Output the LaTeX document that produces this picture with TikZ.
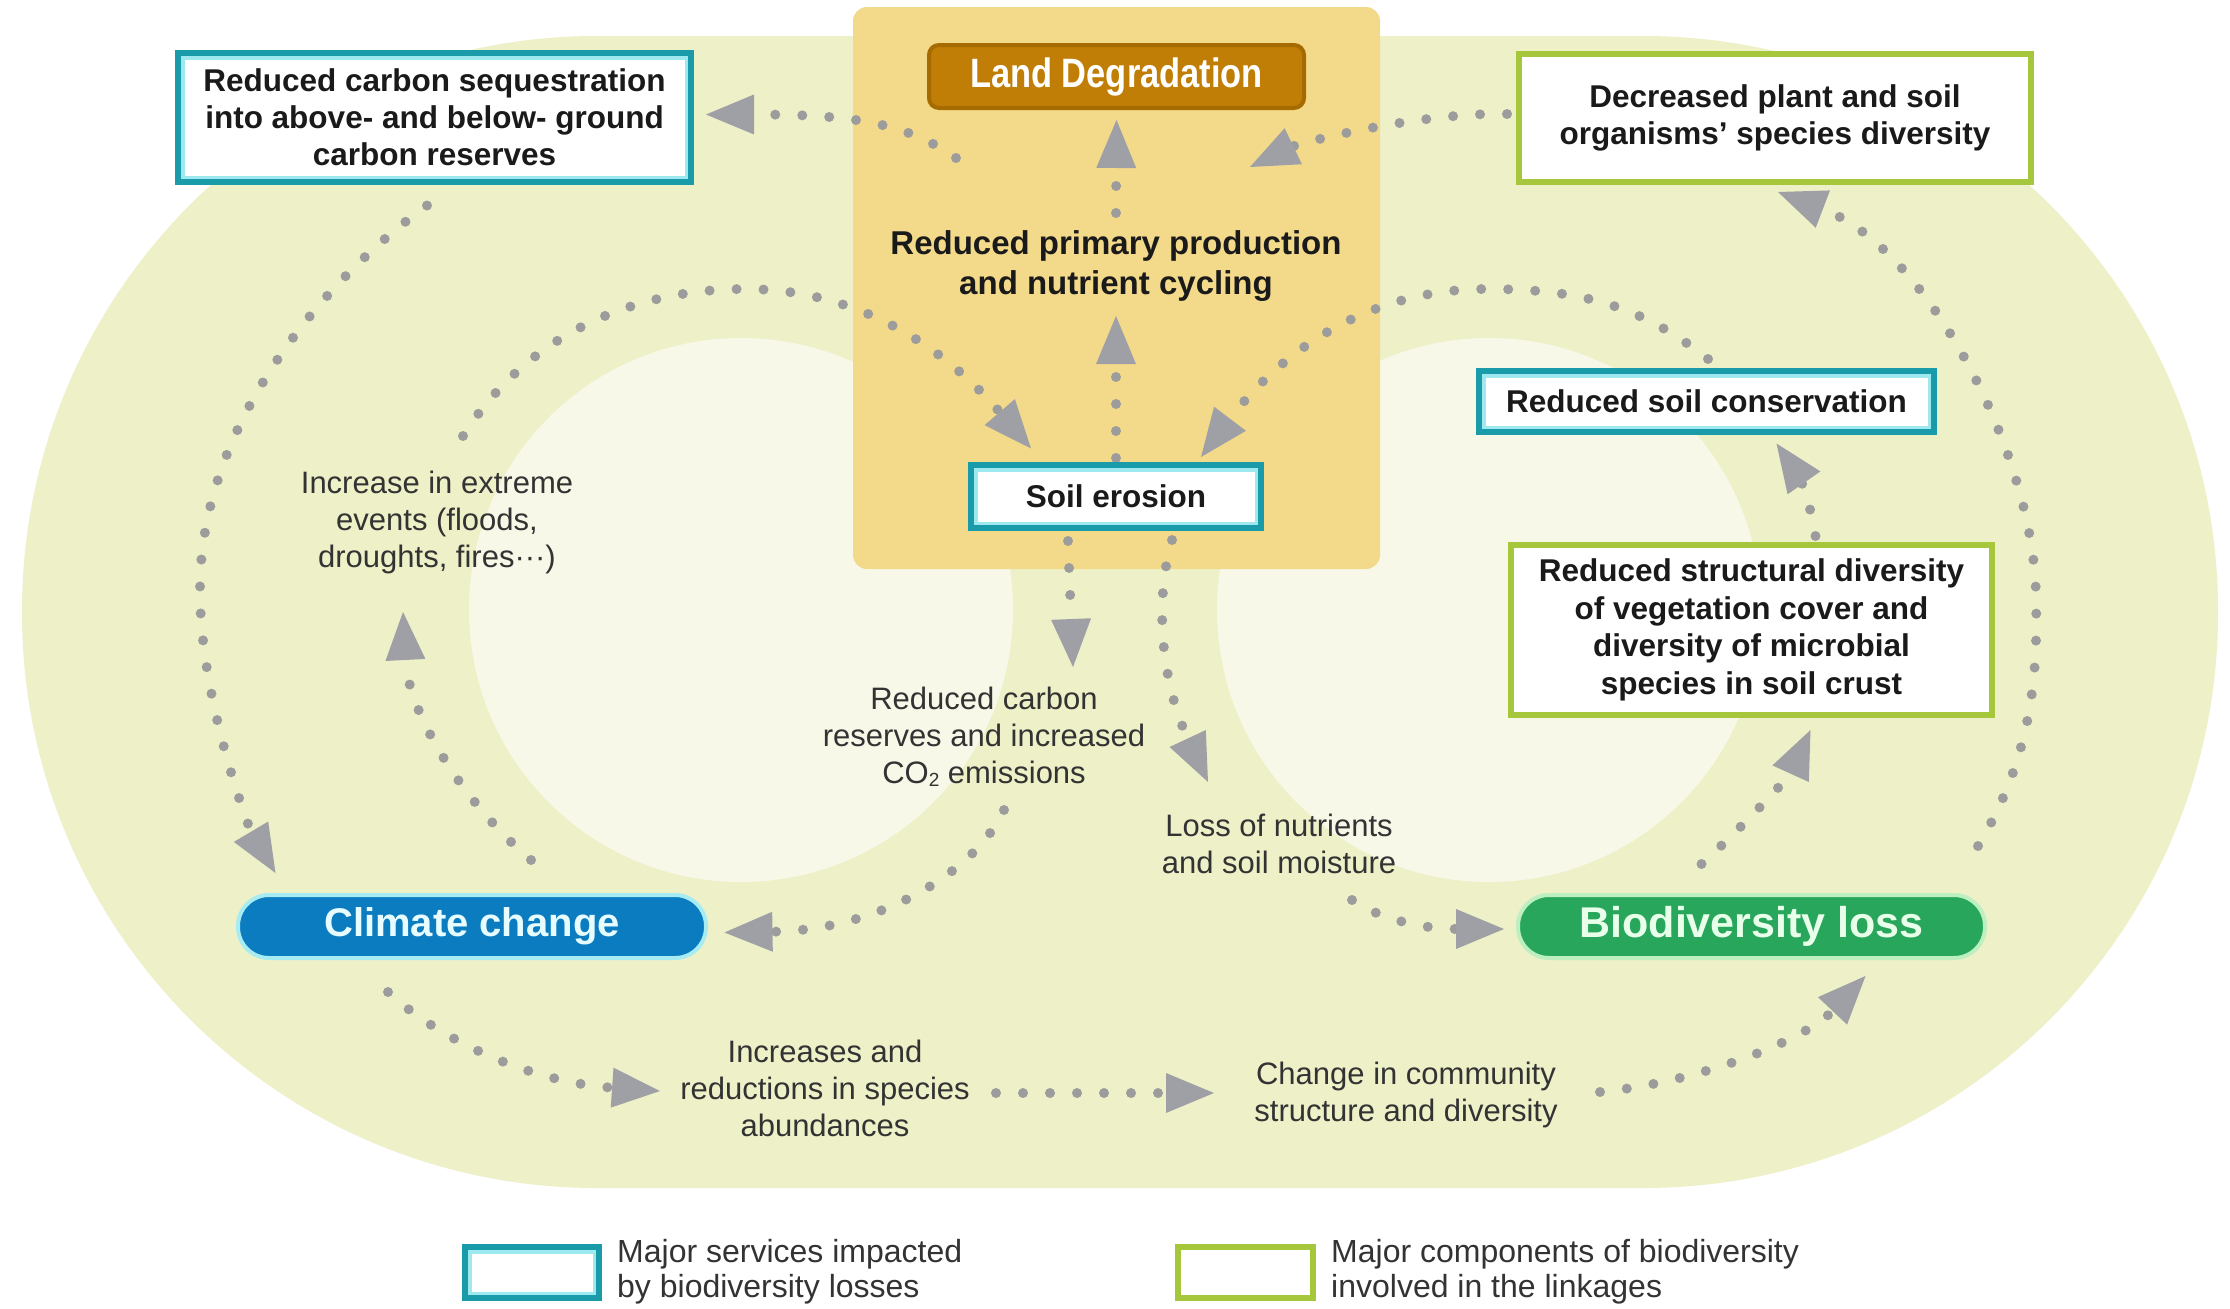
\documentclass[tikz,border=0pt]{standalone}
\usepackage{fontspec}
\setmainfont{Liberation Sans}
\newfontfamily\narrowsans{Liberation Sans}[FakeStretch=0.84]
\usetikzlibrary{arrows.meta,calc}

\definecolor{outergreen}{HTML}{EEF0C8}
\definecolor{palegreen}{HTML}{F7F8E7}
\definecolor{panelyellow}{HTML}{F3DA8A}
\definecolor{ldfill}{HTML}{C07E06}
\definecolor{ldedge}{HTML}{A56B00}
\definecolor{tealc}{HTML}{1A9BAA}
\definecolor{halocyan}{HTML}{9EE9F0}
\definecolor{greenc}{HTML}{A6C63C}
\definecolor{climblue}{HTML}{0B7CC0}
\definecolor{climedge}{HTML}{A8ECF3}
\definecolor{climtext}{HTML}{E6FCFF}
\definecolor{biogreen}{HTML}{28A75C}
\definecolor{bioedge}{HTML}{BDEFC0}
\definecolor{biotext}{HTML}{E8FFE9}
\definecolor{dotgray}{HTML}{9C9C9C}
\definecolor{arrowgray}{HTML}{9FA0A5}
\definecolor{boxtext}{HTML}{1A1A1A}
\definecolor{labeltext}{HTML}{333333}

\pgfdeclarelayer{bg}
\pgfdeclarelayer{conn}
\pgfsetlayers{bg,conn,main}

\tikzset{
  servicebox/.style={rectangle, draw=tealc, line width=6pt, fill=white,
    inner sep=0pt, align=center, text=boxtext,
    font=\bfseries\fontsize{31.5}{37}\selectfont,
    path picture={\draw[halocyan, line width=13pt]
      (path picture bounding box.south west) rectangle
      (path picture bounding box.north east);}},
  compbox/.style={rectangle, draw=greenc, line width=6pt, fill=white,
    inner sep=0pt, align=center, text=boxtext,
    font=\bfseries\fontsize{31.5}{37.5}\selectfont},
  ldbox/.style={rectangle, rounded corners=10pt, fill=ldfill, draw=ldedge,
    line width=4pt, inner sep=0pt, text=white,
    font=\narrowsans\bfseries\fontsize{41}{41}\selectfont},
  pill/.style={rectangle, rounded corners=31pt, line width=4pt, inner sep=0pt},
  plaintext/.style={inner sep=0pt, align=center, text=labeltext,
    font=\fontsize{31}{37}\selectfont},
  flow/.style={draw=dotgray, line width=10pt, line cap=round,
    dash pattern=on 0pt off 27pt,
    -{Triangle[length=48pt, width=40pt, line width=0pt, color=arrowgray]}},
}

\begin{document}
\begin{tikzpicture}[x=1pt,y=-1pt]
\useasboundingbox (0,0) rectangle (2230,1309);

% backdrop: stadium, pale discs and the land-degradation panel
\begin{pgfonlayer}{bg}
  \fill[white] (0,0) rectangle (2230,1309);
  \fill[outergreen, rounded corners=575pt] (22,36) rectangle (2218,1188);
  \fill[palegreen] (741,610) circle[radius=272];
  \fill[palegreen] (1489,610) circle[radius=272];
  \fill[panelyellow, rounded corners=14pt] (853,7) rectangle (1380,569);
\end{pgfonlayer}

% boxes
\node[ldbox, minimum width=375pt, minimum height=63pt] (ld) at (1116.5,76.5) {Land Degradation};
\node[plaintext, text=boxtext, font=\bfseries\fontsize{33}{40}\selectfont] (prim) at (1116,266)
  {Reduced primary production\\and nutrient cycling};
\node[servicebox, minimum width=290pt, minimum height=63pt] (soil) at (1116,496.5) {Soil erosion};
\node[servicebox, minimum width=513pt, minimum height=129pt] (cseq) at (434.5,117.5)
  {Reduced carbon sequestration\\into above- and below- ground\\carbon reserves};
\node[compbox, minimum width=512pt, minimum height=128pt] (dec) at (1775,118)
  {Decreased plant and soil\\organisms’ species diversity};
\node[servicebox, minimum width=455pt, minimum height=61pt] (rsc) at (1706.5,401.5)
  {Reduced soil conservation};
\node[compbox, minimum width=481pt, minimum height=170pt] (rstr) at (1751.5,630)
  {Reduced structural diversity\\of vegetation cover and\\diversity of microbial\\species in soil crust};
\node[pill, fill=climblue, draw=climedge, text=climtext,
  font=\bfseries\fontsize{40}{40}\selectfont,
  minimum width=468pt, minimum height=63pt] (clim) at (472,926.5) {Climate change};
\node[pill, fill=biogreen, draw=bioedge, text=biotext,
  font=\bfseries\fontsize{43}{43}\selectfont,
  minimum width=467pt, minimum height=63pt] (bio) at (1751.5,926.5) {Biodiversity loss};

% free labels
\node[plaintext] (ext) at (437,522) {Increase in extreme\\events (floods,\\droughts, fires···)};
\node[plaintext] (carb) at (984,737)
  {Reduced carbon\\reserves and increased\\CO\raisebox{-3pt}{\fontsize{19}{19}\selectfont 2} emissions};
\node[plaintext] (nutr) at (1279,843.5) {Loss of nutrients\\and soil moisture};
\node[plaintext] (abund) at (825,1088) {Increases and\\reductions in species\\abundances};
\node[plaintext] (comm) at (1406,1095) {Change in community\\structure and diversity};

% legend
\node[servicebox, minimum width=134pt, minimum height=51pt] (legs) at (532,1272.5) {};
\node[plaintext, anchor=west, align=left, font=\fontsize{32}{35}\selectfont] (legst) at (617,1271.5)
  {Major services impacted\\by biodiversity losses};
\node[compbox, minimum width=135pt, minimum height=51pt] (legc) at (1245.5,1272.5) {};
\node[plaintext, anchor=west, align=left, font=\fontsize{32}{35}\selectfont] (legct) at (1331,1271.5)
  {Major components of biodiversity\\involved in the linkages};

% dotted links
\begin{pgfonlayer}{conn}
  \draw[flow] ($(ld.south west)+(29,48)$) .. controls (905,122) and (850,114.5) .. ($(cseq.east)+(12,-3)$);
  \draw[flow] ($(dec.west)+(-9,-4)$) .. controls (1420,112) and (1300,143) .. ($(ld.south east)+(-56,57)$);
  \draw[flow] ($(prim.center)+(0,-53)$) -- ($(ld.south)+(0,10)$);
  \draw[flow] ($(soil.north)+(0,-4)$) -- ($(prim.center)+(0,50)$);
  \draw[flow] ($(cseq.south)+(-7.5,20.5)$) .. controls (330,275) and (200,420) .. (200,590)
    .. controls (200,700) and (250,830) .. ($(clim.north west)+(39.5,-20)$);
  \draw[flow] ($(clim.north)+(59,-33)$) .. controls (460,800) and (408,710) .. ($(ext.center)+(-34,90)$);
  \draw[flow] ($(ext.center)+(26,-86)$) .. controls (530,330) and (640,289) .. (745,289)
    .. controls (870,289) and (955,360) .. ($(soil.north west)+(63,-13.5)$);
  \draw[flow] ($(rsc.north)+(1.5,-9)$) .. controls (1640,305) and (1580,289) .. (1487,289)
    .. controls (1362,289) and (1276,358) .. ($(soil.north east)+(-63,-5)$);
  \draw[flow] ($(soil.south)+(-48,10)$) -- ($(carb.center)+(89,-70)$);
  \draw[flow] ($(carb.center)+(20,73)$) .. controls (975,872) and (880,930) .. ($(clim.east)+(16.5,6)$);
  \draw[flow] ($(soil.south)+(56,9)$) .. controls (1152,610) and (1165,690) .. ($(nutr.center)+(-71,-61.5)$);
  \draw[flow] ($(nutr.center)+(73,56.5)$) .. controls (1385,922) and (1430,929) .. ($(bio.west)+(-12,2.5)$);
  \draw[flow] ($(bio.north)+(-50,-29)$) .. controls (1745,825) and (1790,775) .. ($(rstr.south)+(59,12)$);
  \draw[flow] ($(rstr.north)+(64,-6)$) .. controls (1812,505) and (1795,470) .. ($(rsc.south)+(70,8.5)$);
  \draw[flow] ($(bio.north east)+(-9,-47)$) .. controls (2030,760) and (2038,680) .. (2036,600)
    .. controls (2036,460) and (1930,250) .. ($(dec.south)+(3,7)$);
  \draw[flow] ($(clim.south)+(-84,32)$) .. controls (440,1040) and (530,1082) .. ($(abund.center)+(-165,3)$);
  \draw[flow] ($(abund.center)+(171,5)$) -- ($(comm.center)+(-192,-2)$);
  \draw[flow] ($(comm.center)+(194,-3)$) .. controls (1700,1082) and (1805,1040) .. ($(bio.south)+(114,16)$);
\end{pgfonlayer}
\end{tikzpicture}
\end{document}
